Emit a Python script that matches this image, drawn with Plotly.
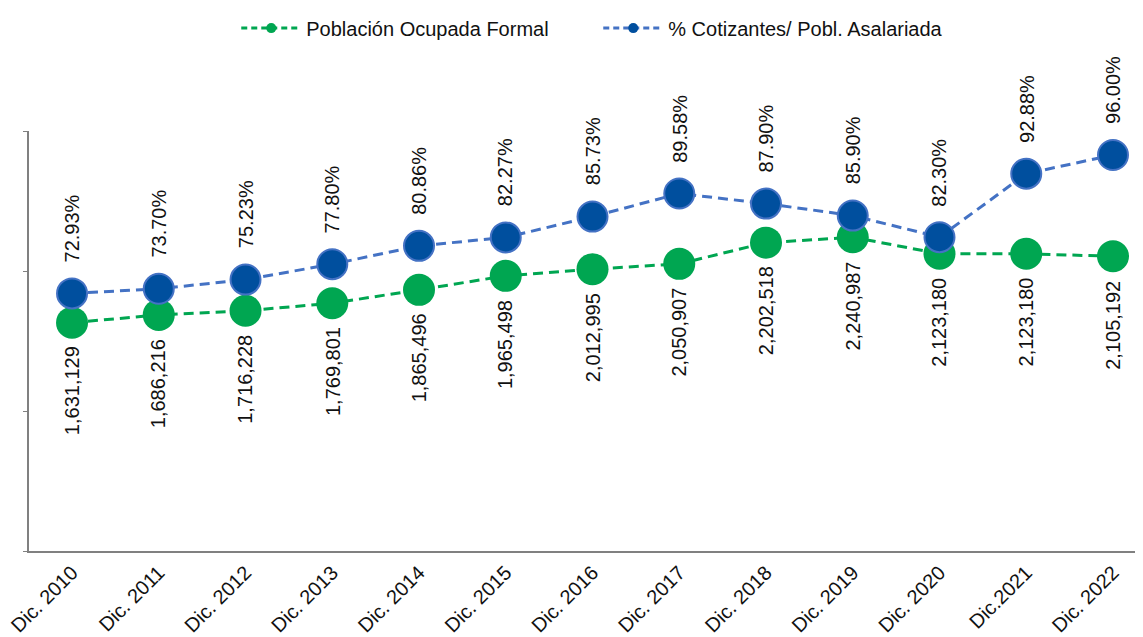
import plotly.graph_objects as go

categorias = ["Dic. 2010", "Dic. 2011", "Dic. 2012", "Dic. 2013", "Dic. 2014", "Dic. 2015",
              "Dic. 2016", "Dic. 2017", "Dic. 2018", "Dic. 2019", "Dic. 2020", "Dic.2021", "Dic. 2022"]
poblacion = [1631129, 1686216, 1716228, 1769801, 1865496, 1965498, 2012995,
             2050907, 2202518, 2240987, 2123180, 2123180, 2105192]
cotizantes = [72.93, 73.70, 75.23, 77.80, 80.86, 82.27, 85.73, 89.58, 87.90, 85.90, 82.30, 92.88, 96.00]

GREEN = "#00A651"
BLUE_LINE = "#4472C4"
BLUE_FILL = "#004F9E"
FONT = "Liberation Sans, Arial, sans-serif"
TXT = "#111111"

x = list(range(len(categorias)))

fig = go.Figure()
fig.add_trace(go.Scatter(
    x=x, y=poblacion, mode="lines+markers", yaxis="y",
    line=dict(color=GREEN, width=3, dash="10px,6px"),
    marker=dict(color=GREEN, size=32, line=dict(color=GREEN, width=0)),
    showlegend=False, hoverinfo="skip"))
fig.add_trace(go.Scatter(
    x=x, y=cotizantes, mode="lines+markers", yaxis="y2",
    line=dict(color=BLUE_LINE, width=3, dash="10px,6px"),
    marker=dict(color=BLUE_FILL, size=30, line=dict(color=BLUE_LINE, width=2)),
    showlegend=False, hoverinfo="skip"))

# legend-only entries
fig.add_trace(go.Scatter(
    x=[None], y=[None], mode="lines+markers", name="Población Ocupada Formal",
    line=dict(color=GREEN, width=3, dash="6px,4px"),
    marker=dict(color=GREEN, size=10)))
fig.add_trace(go.Scatter(
    x=[None], y=[None], mode="lines+markers", name="% Cotizantes/ Pobl. Asalariada", yaxis="y2",
    line=dict(color=BLUE_LINE, width=3, dash="6px,4px"),
    marker=dict(color=BLUE_FILL, size=10)))

annotations = []
for xi, v in zip(x, poblacion):
    annotations.append(dict(
        x=xi, y=v, xref="x", yref="y", text=f"{v:,}", showarrow=False,
        textangle=-90, yanchor="top", xanchor="center", yshift=-22,
        font=dict(family=FONT, size=20, color=TXT)))
for xi, v in zip(x, cotizantes):
    annotations.append(dict(
        x=xi, y=v, xref="x", yref="y2", text=f"{v:.2f}%", showarrow=False,
        textangle=-90, yanchor="bottom", xanchor="center", yshift=29,
        font=dict(family=FONT, size=20, color=TXT)))

# the page body adds an 8px offset, so the figure is sized to fit the window
fig.update_layout(
    width=1135, height=629,
    margin=dict(l=21, r=0, t=118, b=86),
    paper_bgcolor="white", plot_bgcolor="white",
    font=dict(family=FONT, size=20, color=TXT),
    xaxis=dict(
        tickmode="array", tickvals=x, ticktext=categorias,
        range=[-0.496, 12.346], tickangle=-45,
        showline=True, linecolor="#808080", linewidth=2,
        showgrid=False, zeroline=False, ticks="",
        ticklabeloverflow="allow", automargin=False,
        tickfont=dict(family=FONT, size=20, color=TXT)),
    yaxis=dict(
        range=[0, 3000000], tickvals=[0, 1000000, 2000000, 3000000],
        showticklabels=False, showline=True, linecolor="#808080", linewidth=2,
        ticks="outside", ticklen=4, tickcolor="#808080", tickwidth=1,
        showgrid=False, zeroline=False),
    yaxis2=dict(
        range=[30, 100], overlaying="y", side="right",
        showticklabels=False, showline=False, showgrid=False, zeroline=False),
    legend=dict(
        orientation="h", x=0.511, xanchor="center", y=1.245, yanchor="middle",
        font=dict(family=FONT, size=20, color=TXT),
        itemwidth=60, entrywidth=287, entrywidthmode="pixels"),
    annotations=annotations,
)

fig.write_html("out.html")
